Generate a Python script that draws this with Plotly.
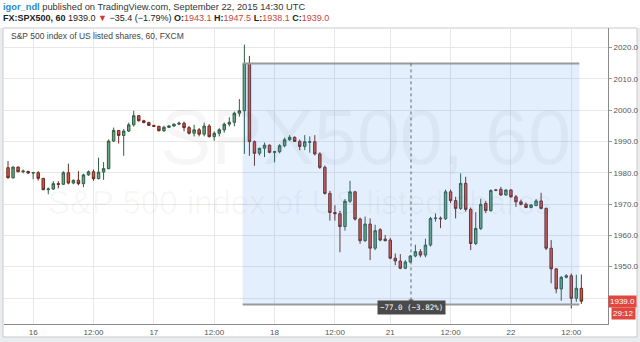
import plotly.graph_objects as go

# ---------------- data (hourly bars, FX:SPX500) ----------------
opens = [1981.6, 1978.4, 1981.8, 1980.3, 1980.4, 1979.9, 1980.0, 1978.2, 1974.6, 1974.8,
         1976.5, 1976.3, 1980.0, 1976.7, 1977.6, 1976.5, 1979.3, 1980.3, 1978.1, 1980.2,
         1981.3, 1990.1, 1993.5, 1991.9, 1993.3, 1995.3, 1998.2, 1996.6, 1996.0, 1995.1,
         1994.8, 1993.4, 1994.5, 1994.9, 1995.5, 1995.8, 1994.4, 1992.6, 1993.7, 1992.3,
         1994.9, 1991.5, 1992.6, 1993.7, 1995.5, 1996.1, 1999.0, 1999.8, 2014.9, 1989.9,
         1986.2, 1987.8, 1988.8, 1986.5, 1986.7, 1988.6, 1990.5, 1991.3, 1990.0, 1988.4,
         1989.7, 1989.9, 1986.0, 1981.7, 1973.4, 1967.3, 1966.9, 1962.8, 1970.9, 1973.9,
         1965.2, 1958.3, 1963.6, 1955.9, 1961.8, 1958.8, 1958.5, 1952.7, 1951.8, 1949.5,
         1951.5, 1953.4, 1954.8, 1953.7, 1956.9, 1965.4, 1965.5, 1965.3, 1973.9, 1971.1,
         1968.6, 1976.6, 1968.3, 1957.4, 1962.2, 1970.2, 1967.9, 1974.5, 1974.7, 1972.9,
         1974.5, 1972.3, 1970.7, 1969.9, 1968.9, 1969.5, 1971.0, 1968.6, 1955.9, 1949.3,
         1942.9, 1946.6, 1947.1, 1939.9, 1943.1]
highs = [1983.7, 1982.0, 1981.9, 1981.0, 1980.6, 1980.2, 1980.5, 1978.3, 1975.3, 1977.3,
         1977.3, 1980.5, 1982.9, 1977.8, 1980.5, 1979.7, 1980.7, 1981.0, 1984.8, 1983.4,
         1990.6, 1994.4, 1993.6, 1993.9, 1996.0, 1999.8, 1998.4, 1996.9, 1996.3, 1995.3,
         1995.0, 1995.0, 1995.1, 1995.7, 1996.3, 1996.3, 1994.9, 1995.3, 1994.3, 1996.0,
         1995.5, 1993.2, 1994.2, 1996.0, 1997.7, 1999.5, 2003.5, 2020.9, 2017.3, 1990.3,
         1988.0, 1989.6, 1989.0, 1986.9, 1989.1, 1991.2, 1992.0, 1991.6, 1990.6, 1992.0,
         1991.6, 1992.0, 1986.5, 1982.3, 1974.2, 1969.6, 1967.8, 1971.6, 1977.4, 1974.2,
         1965.7, 1966.0, 1965.4, 1963.4, 1962.3, 1960.1, 1959.2, 1954.2, 1954.0, 1952.1,
         1953.7, 1957.0, 1955.6, 1958.9, 1965.9, 1967.0, 1966.0, 1974.6, 1974.6, 1972.3,
         1979.8, 1978.7, 1968.9, 1967.4, 1971.7, 1971.0, 1974.7, 1974.8, 1975.5, 1974.6,
         1974.7, 1972.9, 1971.4, 1970.5, 1970.0, 1971.6, 1973.6, 1968.9, 1958.5, 1949.5,
         1947.0, 1947.6, 1947.8, 1947.4, 1947.5]
lows = [1978.1, 1978.1, 1980.2, 1979.8, 1979.6, 1977.9, 1977.5, 1974.4, 1973.1, 1974.5,
        1975.0, 1976.1, 1976.3, 1976.3, 1976.0, 1975.4, 1979.0, 1977.4, 1977.9, 1977.7,
        1981.1, 1989.8, 1989.3, 1985.4, 1993.0, 1994.7, 1996.3, 1995.8, 1994.9, 1994.6,
        1993.2, 1993.0, 1994.3, 1994.7, 1995.2, 1993.2, 1992.2, 1991.6, 1991.6, 1991.6,
        1991.3, 1990.2, 1991.6, 1992.8, 1994.8, 1994.8, 1997.9, 1986.0, 1985.4, 1982.2,
        1985.5, 1985.0, 1986.2, 1983.3, 1986.2, 1988.1, 1990.2, 1989.9, 1987.2, 1987.2,
        1986.4, 1985.5, 1981.2, 1973.0, 1964.7, 1964.7, 1954.6, 1961.5, 1970.4, 1964.7,
        1957.3, 1957.9, 1952.1, 1955.3, 1958.1, 1958.1, 1952.4, 1950.5, 1949.2, 1949.2,
        1951.2, 1953.0, 1953.0, 1953.0, 1956.4, 1964.4, 1962.3, 1964.9, 1970.3, 1965.4,
        1968.1, 1967.6, 1955.3, 1956.9, 1961.7, 1967.1, 1967.6, 1974.1, 1972.6, 1972.6,
        1972.0, 1969.1, 1969.6, 1968.7, 1968.6, 1969.3, 1968.3, 1955.3, 1944.7, 1941.5,
        1939.1, 1946.3, 1936.7, 1938.8, 1938.1]
closes = [1978.4, 1981.8, 1980.3, 1980.5, 1979.9, 1980.0, 1978.2, 1974.6, 1974.8, 1976.5,
          1976.3, 1980.0, 1976.7, 1977.6, 1976.5, 1979.3, 1980.3, 1978.1, 1980.2, 1981.3,
          1990.1, 1993.5, 1991.9, 1993.3, 1995.3, 1998.2, 1996.6, 1996.0, 1995.1, 1994.8,
          1993.4, 1994.5, 1994.9, 1995.5, 1995.8, 1994.4, 1992.6, 1993.7, 1992.3, 1994.9,
          1991.5, 1992.6, 1993.7, 1995.5, 1996.1, 1999.0, 1999.8, 2014.9, 1989.9, 1986.2,
          1987.8, 1988.8, 1986.5, 1986.7, 1988.6, 1990.5, 1991.3, 1990.0, 1988.4, 1989.9,
          1989.9, 1986.0, 1981.7, 1973.4, 1967.3, 1966.9, 1962.8, 1970.9, 1973.9, 1965.2,
          1958.3, 1963.6, 1955.9, 1961.5, 1958.5, 1958.3, 1952.7, 1951.8, 1949.5, 1951.5,
          1953.4, 1954.8, 1953.7, 1956.9, 1965.4, 1965.5, 1965.3, 1973.9, 1971.1, 1968.6,
          1976.6, 1968.3, 1957.4, 1962.2, 1969.9, 1967.9, 1974.3, 1974.4, 1972.9, 1974.5,
          1972.3, 1970.7, 1969.9, 1968.9, 1969.7, 1971.0, 1968.6, 1955.9, 1949.3, 1942.9,
          1946.6, 1947.1, 1939.9, 1943.1, 1939.0]
bars = list(range(len(opens)))

x_tick_bars = [5, 17, 29, 41, 53, 65, 76, 88, 100, 112]
x_tick_labels = ["16", "12:00", "17", "12:00", "18", "12:00", "21", "12:00", "22", "12:00"]
y_ticks = [1940, 1950, 1960, 1970, 1980, 1990, 2000, 2010, 2020]
# the 1940.0 label is hidden behind the last-price marker in the reference
y_tick_labels = ["", "1950.0", "1960.0", "1970.0", "1980.0", "1990.0", "2000.0", "2010.0", "2020.0"]

range_start_bar = 46.66
range_end_bar = 113.6
range_top = 2014.9
range_bottom = 1937.9
last_price = 1939.0

W, H = 640, 342


def px(x):
    return x / W


def py(y):
    return (H - y) / H


FONT = "Liberation Sans, Arial, sans-serif"

fig = go.Figure()
fig.add_trace(go.Candlestick(
    x=bars, open=opens, high=highs, low=lows, close=closes,
    increasing=dict(line=dict(color="#2f5e44", width=1), fillcolor="#6ba583"),
    decreasing=dict(line=dict(color="#6b2a22", width=1), fillcolor="#d75442"),
    whiskerwidth=0, showlegend=False, hoverinfo="skip",
))

mid_bar = (range_start_bar + range_end_bar) / 2
diff = range_bottom - range_top
pct = diff / range_top * 100

shapes = [
    # outer light-grey background & chart frame
    dict(type="rect", xref="paper", yref="paper", x0=0, x1=1, y0=0, y1=py(28),
         fillcolor="#e9edf0", line=dict(width=0), layer="below"),
    dict(type="rect", xref="paper", yref="paper", x0=px(3), x1=px(637), y0=py(337), y1=py(28),
         fillcolor="#ffffff", line=dict(color="#c9c9c9", width=1), layer="below"),
    # price range tool
    dict(type="rect", xref="x", yref="y", x0=range_start_bar, x1=range_end_bar,
         y0=range_bottom, y1=range_top, fillcolor="rgba(70,145,240,0.15)",
         line=dict(width=0), layer="above"),
    dict(type="line", xref="x", yref="y", x0=range_start_bar, x1=range_end_bar,
         y0=range_top, y1=range_top, line=dict(color="#9a9a9a", width=2), layer="above"),
    dict(type="line", xref="x", yref="y", x0=range_start_bar, x1=range_end_bar,
         y0=range_bottom, y1=range_bottom, line=dict(color="#9a9a9a", width=2), layer="above"),
    dict(type="line", xref="x", yref="y", x0=mid_bar, x1=mid_bar,
         y0=range_top, y1=range_bottom + 1.5,
         line=dict(color="#666666", width=1, dash="dot"), layer="above"),
]

annotations = [
    # watermark
    dict(text="SPX500, 60", xref="paper", yref="paper", x=px(365), y=py(137),
         showarrow=False, font=dict(size=77, color="rgba(0,0,0,0.035)", family=FONT)),
    dict(text="S&amp;P 500 index of US listed shares", xref="paper", yref="paper",
         x=px(300), y=py(202), showarrow=False,
         font=dict(size=33, color="rgba(0,0,0,0.035)", family=FONT)),
    # header
    dict(text="<b><span style='color:#2a86cc'>igor_ndl</span></b> published on TradingView.com, September 22, 2015 14:30 UTC",
         xref="paper", yref="paper", x=px(1), y=py(7), xanchor="left", yanchor="middle",
         showarrow=False, font=dict(size=9.3, color="#333333", family=FONT)),
    dict(text=("<b>FX:SPX500, 60</b> 1939.0 <span style='color:#d0393e'>▼</span> −35.4 (−1.79%) "
               "<b>O:</b><span style='color:#c8453f'>1943.1</span> "
               "<b>H:</b><span style='color:#c8453f'>1947.5</span> "
               "<b>L:</b><span style='color:#c8453f'>1938.1</span> "
               "<b>C:</b><span style='color:#c8453f'>1939.0</span>"),
         xref="paper", yref="paper", x=px(1), y=py(18), xanchor="left", yanchor="middle",
         showarrow=False, font=dict(size=9, color="#222222", family=FONT)),
    dict(text="S&amp;P 500 index of US listed shares, 60, FXCM", xref="paper", yref="paper",
         x=px(9), y=py(36), xanchor="left", yanchor="middle", showarrow=False,
         font=dict(size=8.5, color="#444444", family=FONT)),
    # arrow head of measuring line
    dict(text="", x=mid_bar, y=range_bottom, xref="x", yref="y", showarrow=True,
         ax=0, ay=-7, arrowhead=2, arrowsize=1, arrowwidth=1, arrowcolor="#666666"),
    # measurement label
    dict(text=f"{diff:.1f} ({pct:.2f}%)".replace("-", "−"), x=mid_bar, xref="x",
         y=py(314.5), yref="paper", showarrow=False, bgcolor="#4a4a4a", borderpad=2,
         font=dict(size=7.5, color="#ffffff", family="DejaVu Sans Mono, monospace")),
    # last price labels
    dict(text=f"{last_price:.1f}", x=px(608), xref="paper", y=last_price, yref="y",
         xanchor="left", yanchor="middle", showarrow=False, bgcolor="#e0483f", borderpad=1,
         font=dict(size=8, color="#ffffff", family=FONT)),
    dict(text="29:12", x=px(623), xref="paper", y=py(313), yref="paper",
         xanchor="center", yanchor="middle", showarrow=False, bgcolor="#e0483f", borderpad=1,
         font=dict(size=8, color="#ffffff", family=FONT)),
]

fig.update_layout(
    width=W, height=H, margin=dict(l=0, r=0, t=0, b=0),
    paper_bgcolor="#ffffff", plot_bgcolor="rgba(0,0,0,0)",
    shapes=shapes, annotations=annotations, showlegend=False,
    xaxis=dict(domain=[px(4), px(608)], range=[-0.8, 119.3], tickmode="array",
               tickvals=x_tick_bars, ticktext=x_tick_labels, showgrid=True,
               gridcolor="#e7e7e7", gridwidth=1, showline=True, linecolor="#8a8a8a",
               linewidth=1, ticks="", zeroline=False, rangeslider=dict(visible=False),
               tickfont=dict(size=8, color="#555555", family=FONT), fixedrange=True),
    yaxis=dict(domain=[py(324), py(28)], range=[1931.7, 2026.2], side="right",
               tickmode="array", tickvals=y_ticks, ticktext=y_tick_labels,
               showgrid=True, gridcolor="#e7e7e7", gridwidth=1, showline=True,
               linecolor="#8a8a8a", linewidth=1, ticks="outside", ticklen=3,
               tickcolor="#999999", zeroline=False,
               tickfont=dict(size=8, color="#555555", family=FONT), fixedrange=True),
)

fig.write_html("out.html")
